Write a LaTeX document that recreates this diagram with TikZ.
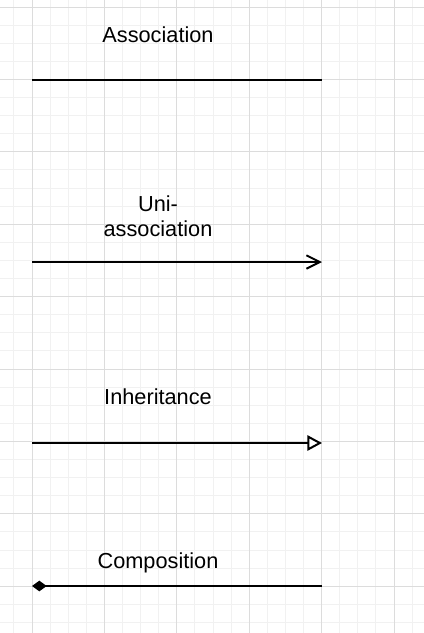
\documentclass[tikz,border=0pt]{standalone}
\usepackage{fontspec}
\setmainfont{Liberation Sans}
\usetikzlibrary{arrows.meta,positioning}
\definecolor{GridMinor}{RGB}{241,241,241}
\definecolor{GridMajor}{RGB}{220,220,220}
\tikzset{
  RelLine/.style={draw=black, line width=1.5pt},
  RelLabel/.style={font=\fontsize{16.3}{18.75}\selectfont, align=center, inner sep=0pt},
}

\begin{document}
\begin{tikzpicture}[x=0.75pt, y=-0.75pt]
            %背景格線與四種關係線
            \useasboundingbox (0,0) rectangle (424,633);
            \foreach \k in {-1,...,21}
              \draw [GridMinor, line width=0.75pt] ({32+\k*18.1},0) -- ({32+\k*18.1},633);
            \foreach \k in {0,...,34}
              \draw [GridMinor, line width=0.75pt] (0,{7+\k*18.1}) -- (424,{7+\k*18.1});
            \foreach \k in {0,...,5}
              \draw [GridMajor, line width=0.75pt] ({32+\k*72.4},0) -- ({32+\k*72.4},633);
            \foreach \k in {0,...,8}
              \draw [GridMajor, line width=0.75pt] (0,{7+\k*72.4}) -- (424,{7+\k*72.4});

            \coordinate (AssocL) at (32,80);
            \coordinate (AssocR) at (322,80);
            \coordinate (UniL) at (32,262);
            \coordinate (UniR) at (322,262);
            \coordinate (InhL) at (32,443);
            \coordinate (InhR) at (322,443);
            \coordinate (CompL) at (32,586);
            \coordinate (CompR) at (322,586);

            \node [RelLabel] (AssocText) at (158,35) {Association};
            \node [RelLabel] (UniText) at (158,216) {Uni-\\association};
            \node [RelLabel] (InhText) at (158,396.5) {Inheritance};
            \node [RelLabel] (CompText) at (158,563) {Composition};

            \draw [RelLine] (AssocL) -- (AssocR);
            \draw [RelLine, -{Straight Barb[length=10pt, width=10pt]}] (UniL) -- (UniR);
            \draw [RelLine, -{Triangle[length=11pt, width=11.5pt, fill=white]}] (InhL) -- (InhR);
            \draw [RelLine, {Diamond[length=11pt, width=8pt]}-] (CompL) -- (CompR);
\end{tikzpicture}
\end{document}
